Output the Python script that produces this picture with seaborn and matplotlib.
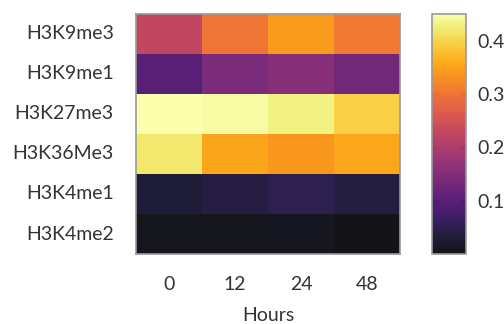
import numpy as np
import pandas as pd
import matplotlib
matplotlib.use("Agg")
import matplotlib.pyplot as plt
import seaborn as sns

marks = ["H3K9me3", "H3K9me1", "H3K27me3", "H3K36Me3", "H3K4me1", "H3K4me2"]
hours = ["0", "12", "24", "48"]

h3k9me3 = [0.225, 0.300, 0.343, 0.305]
h3k9me1 = [0.100, 0.140, 0.153, 0.130]
h3k27me3 = [0.450, 0.445, 0.430, 0.395]
h3k36me3 = [0.420, 0.352, 0.338, 0.355]
h3k4me1 = [0.030, 0.040, 0.050, 0.038]
h3k4me2 = [0.010, 0.010, 0.012, 0.000]

df = pd.DataFrame([h3k9me3, h3k9me1, h3k27me3, h3k36me3, h3k4me1, h3k4me2],
                  index=marks, columns=hours)

sns.set_theme(style="white")
plt.rcParams["font.family"] = ["Lato", "DejaVu Sans"]
text_color = "#333333"
edge_color = "#999999"

fig = plt.figure(figsize=(5.04, 3.24), dpi=100)
ax = fig.add_axes([0.270, 0.216, 0.524, 0.741])
cax = fig.add_axes([0.857, 0.216, 0.068, 0.741])

sns.heatmap(df, ax=ax, cbar_ax=cax, cmap="inferno", vmin=0.0, vmax=0.45,
            linewidths=0, alpha=0.92, cbar_kws={"ticks": [0.1, 0.2, 0.3, 0.4]})

ax.set_xlabel("Hours", fontsize=14, color=text_color, labelpad=10)
ax.set_ylabel("")
ax.tick_params(axis="both", length=7, width=1, color=edge_color,
               labelsize=14, labelcolor=text_color, pad=9)
ax.tick_params(axis="y", rotation=0)
ax.tick_params(axis="x", rotation=0)
for s in ax.spines.values():
    s.set_visible(True)
    s.set_color(edge_color)
    s.set_linewidth(1.2)

cax.tick_params(axis="y", direction="in", left=True, right=True, length=5,
                width=1, color=edge_color, labelsize=14, labelcolor=text_color, pad=8)
cbar = ax.collections[0].colorbar
cbar.outline.set_visible(True)
cbar.outline.set_edgecolor(edge_color)
cbar.outline.set_linewidth(1.2)

fig.savefig("out.png", dpi=100)
